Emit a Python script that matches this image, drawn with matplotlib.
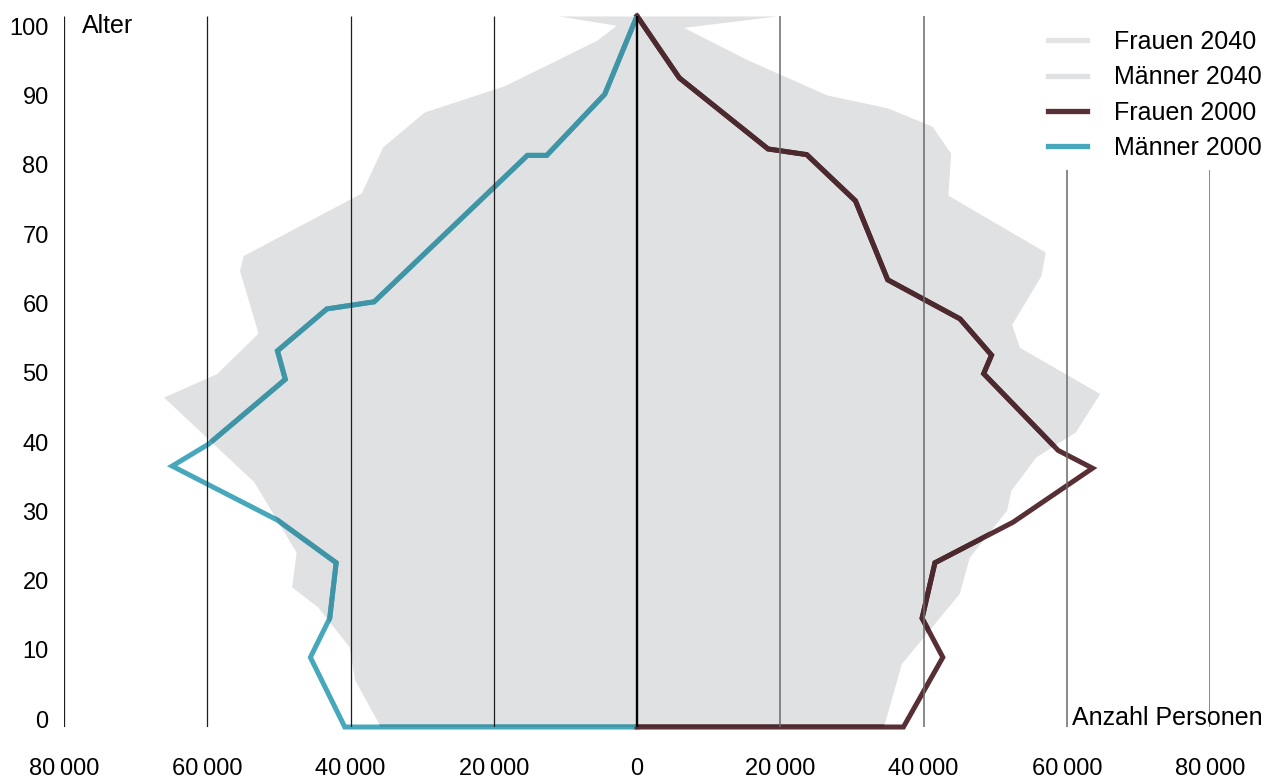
import numpy as np
import matplotlib
matplotlib.use("Agg")
import matplotlib.pyplot as plt
from matplotlib.lines import Line2D

plt.rcParams['font.family'] = ['Liberation Sans', 'DejaVu Sans']

# Männer 2040 (grey area, left side)
ages_m40 = [0, 6.6, 11.3, 16.9, 19.7, 24.6, 34.5, 46.4, 49.7, 55.4, 64.2, 66.3,
            75.1, 81.6, 86.5, 90.2, 96.6, 98.7, 100]
m40 = [35800, 39400, 40200, 44600, 48200, 47600, 53500, 66100, 58700, 52900, 55500,
       55000, 38500, 35500, 29700, 18500, 5600, 2900, 10900]

# Frauen 2040 (grey area, right side)
ages_f40 = [0, 8.9, 18.8, 23.9, 30.5, 33.3, 38.0, 41.5, 46.9, 53.4, 56.6, 63.5,
            66.8, 74.8, 80.7, 84.5, 87.1, 88.9, 93.8, 98.4, 100]
f40 = [34400, 36900, 45000, 46400, 51600, 52200, 55700, 61200, 64600, 53400, 52300,
       56400, 57000, 43400, 43800, 41200, 34900, 26500, 15500, 6500, 19500]

# Männer 2000
ages_m00 = [0, 0, 9.8, 15.3, 23.1, 29.1, 36.7, 39.8, 48.9, 52.9, 58.8, 59.8,
            80.4, 80.4, 89.0, 100]
m00 = [0, 40800, 45600, 42900, 42000, 50200, 64900, 59800, 49100, 50200, 43300,
       36700, 15300, 12600, 4500, 0]

# Frauen 2000
ages_f00 = [0, 0, 9.8, 15.3, 23.1, 28.8, 36.4, 38.9, 49.7, 52.3, 57.4, 62.9,
            74.0, 80.5, 81.3, 91.3, 100]
f00 = [0, 37200, 42700, 39800, 41600, 52500, 63600, 58800, 48400, 49500, 45100,
       35000, 30500, 23700, 18300, 5900, 0]

x_ticks = [-80000, -60000, -40000, -20000, 0, 20000, 40000, 60000, 80000]
x_labels = ['80\u2009000', '60\u2009000', '40\u2009000', '20\u2009000', '0',
            '20\u2009000', '40\u2009000', '60\u2009000', '80\u2009000']
age_ticks = np.arange(0, 101, 10)

legend_labels = ['Frauen 2040', 'Männer 2040', 'Frauen 2000', 'Männer 2000']

grey = '#e0e1e3'
teal = '#48a8bb'
teal_dk = '#3f94a6'
maroon = '#572f34'
maroon_dk = '#4c292e'

W, H = 1269, 780
fig = plt.figure(figsize=(W / 100, H / 100), dpi=100)
ax = fig.add_axes([64 / W, 1 - 727 / H, (1210 - 64) / W, (727 - 16) / H])
ax.set_xlim(-80000, 80000)
ax.set_ylim(0, 100)

# 2040 areas
fm = ax.fill_betweenx(ages_m40, -np.array(m40), 0, color=grey, lw=0, zorder=1)
ff = ax.fill_betweenx(ages_f40, 0, np.array(f40), color=grey, lw=0, zorder=1)

# 2000 lines (lighter on white, darker where they cross the grey area)
lw = 3.6
ax.plot(-np.array(m00), ages_m00, color=teal, lw=lw, zorder=2, clip_on=False,
        solid_joinstyle='miter')
ax.plot(f00, ages_f00, color=maroon, lw=lw, zorder=2, clip_on=False,
        solid_joinstyle='miter')
l1, = ax.plot(-np.array(m00), ages_m00, color=teal_dk, lw=lw, zorder=2.1,
              solid_joinstyle='miter')
l1.set_clip_path(fm.get_paths()[0], transform=ax.transData)
l2, = ax.plot(f00, ages_f00, color=maroon_dk, lw=lw, zorder=2.1,
              solid_joinstyle='miter')
l2.set_clip_path(ff.get_paths()[0], transform=ax.transData)

# vertical grid lines
for xv in x_ticks:
    if xv == 0:
        ax.vlines(xv, 0, 100, color='black', lw=1.7, zorder=4, capstyle='round')
    elif xv < 0:
        ax.vlines(xv, 0, 100, color='#1e1e1e', lw=0.9, zorder=3)
    elif xv < 60000:
        ax.vlines(xv, 0, 100, color='#6a6a6a', lw=1.1, zorder=3)
    else:
        ax.vlines(xv, 0, 78.3, color='#6a6a6a', lw=1.1, zorder=3)

for s in ax.spines.values():
    s.set_visible(False)
ax.set_xticks(x_ticks, x_labels)
# age labels sit slightly off the data scale in the original
ax.set_yticks(1.08 + 0.975 * age_ticks, [str(a) for a in age_ticks])
ax.tick_params(axis='x', length=0, pad=22, labelsize=17)
ax.tick_params(axis='y', length=0, pad=11, labelsize=17)

fig.text(82 / W, 1 - 26 / H, 'Alter', fontsize=18, ha='left', va='center')
fig.text(1263 / W, 1 - 718 / H, 'Anzahl Personen', fontsize=18, ha='right', va='center')

handles = [Line2D([], [], color='#e4e4e6', lw=3.8),
           Line2D([], [], color=grey, lw=3.8),
           Line2D([], [], color=maroon, lw=3.8),
           Line2D([], [], color=teal, lw=3.8)]
fig.legend(handles, legend_labels, loc='upper left',
           bbox_to_anchor=(1048 / W, 1 - 30 / H), frameon=False, fontsize=18,
           handlelength=1.56, handletextpad=1.1, labelspacing=0.45,
           borderpad=0, borderaxespad=0)

fig.savefig('out.png', dpi=100)
